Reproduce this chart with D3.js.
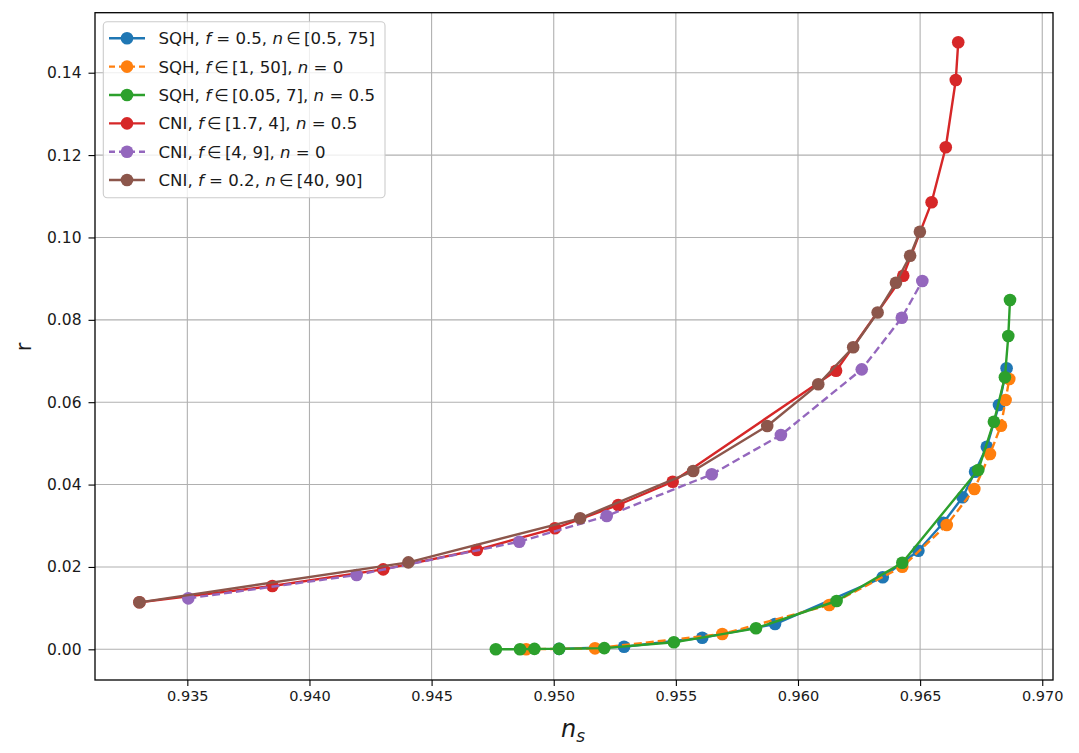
<!DOCTYPE html>
<html><head><meta charset="utf-8">
<script src="https://cdn.jsdelivr.net/npm/d3@7"></script>
<style>
html,body{margin:0;padding:0;background:#fff;}
svg{display:block;font-family:"DejaVu Sans",sans-serif;}
</style></head>
<body><svg id="chart" width="1079" height="753"></svg>
<script>
// ---- data ----
const blueNs  = [0.95022,0.95288,0.95608,0.95906,0.96347,0.96493,0.96595,0.96674,0.96725,0.96773,0.96823,0.96854];
const blueR   = [0.0001,0.00063,0.00282,0.00614,0.01748,0.02394,0.03074,0.03691,0.04312,0.04919,0.05932,0.06823];
const orangeNs= [0.94887,0.95169,0.95690,0.96128,0.96427,0.96609,0.96722,0.96786,0.96831,0.96850,0.96865];
const orangeR = [0.0000,0.00024,0.00371,0.01076,0.02006,0.03018,0.03892,0.04742,0.05429,0.06053,0.06563];
const greenNs = [0.94763,0.94862,0.94921,0.95022,0.95207,0.95492,0.95828,0.96158,0.96427,0.96738,0.96802,0.96847,0.96861,0.96868];
const greenR  = [0.0000,0.0000,0.0001,0.0001,0.0003,0.0017,0.0051,0.01173,0.02103,0.04353,0.05526,0.06604,0.07607,0.08481];
const redNs   = [0.93304,0.93848,0.94302,0.94685,0.95005,0.95264,0.95487,0.96156,0.96431,0.96547,0.96605,0.96646,0.96656];
const redR    = [0.01141,0.01537,0.01942,0.02411,0.02938,0.03504,0.04069,0.06764,0.09071,0.10853,0.12189,0.13823,0.14738];
const purpleNs= [0.93504,0.94193,0.94859,0.95217,0.95647,0.95930,0.96261,0.96425,0.96509];
const purpleR = [0.01238,0.01804,0.02613,0.03237,0.04249,0.05203,0.06798,0.08051,0.08942];
const brownNs = [0.93304,0.94405,0.95108,0.95571,0.95874,0.96083,0.96226,0.96326,0.96401,0.96459,0.96499];
const brownR  = [0.01141,0.02112,0.03181,0.04329,0.05422,0.06434,0.07333,0.08178,0.08901,0.09557,0.10139];

const seriesLabels = [
  "SQH, *f* = 0.5, *n*\u2009∈\u2009[0.5, 75]",
  "SQH, *f*\u2009∈\u2009[1, 50], *n* = 0",
  "SQH, *f*\u2009∈\u2009[0.05, 7], *n* = 0.5",
  "CNI, *f*\u2009∈\u2009[1.7, 4], *n* = 0.5",
  "CNI, *f*\u2009∈\u2009[4, 9], *n* = 0",
  "CNI, *f* = 0.2, *n*\u2009∈\u2009[40, 90]"
];
const xTicks = [0.935,0.940,0.945,0.950,0.955,0.960,0.965,0.970];
const yTicks = [0.00,0.02,0.04,0.06,0.08,0.10,0.12,0.14];

const series = [
  {ns:blueNs, r:blueR, color:"#1f77b4", dash:null},
  {ns:orangeNs, r:orangeR, color:"#ff7f0e", dash:"8,4"},
  {ns:greenNs, r:greenR, color:"#2ca02c", dash:null},
  {ns:redNs, r:redR, color:"#d62728", dash:null},
  {ns:purpleNs, r:purpleR, color:"#9467bd", dash:"8,4"},
  {ns:brownNs, r:brownR, color:"#8c564b", dash:null}
];

// ---- layout ----
const L=95, T=12.7, R=1053, B=680;
const svg = d3.select("#chart");
const x = d3.scaleLinear().domain([0.93122,0.97044]).range([L,R]);
const y = d3.scaleLinear().domain([-0.00745,0.15457]).range([B,T]);

// grid
const grid = svg.append("g");
grid.selectAll("line.gx").data(xTicks).join("line")
  .attr("x1",d=>x(d)).attr("x2",d=>x(d)).attr("y1",T).attr("y2",B)
  .attr("stroke","#b0b0b0").attr("stroke-width",1.1);
grid.selectAll("line.gy").data(yTicks).join("line")
  .attr("y1",d=>y(d)).attr("y2",d=>y(d)).attr("x1",L).attr("x2",R)
  .attr("stroke","#b0b0b0").attr("stroke-width",1.1);

// series
const plot = svg.append("g");
series.forEach(s=>{
  const pts = s.ns.map((v,i)=>[v,s.r[i]]);
  const g = plot.append("g");
  g.append("path").datum(pts)
    .attr("d", d3.line().x(d=>x(d[0])).y(d=>y(d[1])))
    .attr("fill","none").attr("stroke",s.color).attr("stroke-width",2.4)
    .attr("stroke-dasharray",s.dash).attr("stroke-linejoin","round");
  g.selectAll("circle").data(pts).join("circle")
    .attr("cx",d=>x(d[0])).attr("cy",d=>y(d[1])).attr("r",6.3)
    .attr("fill",s.color);
});

// axes
const xAxis = d3.axisBottom(x).tickValues(xTicks).tickFormat(d3.format(".3f")).tickSize(6).tickPadding(5);
const yAxis = d3.axisLeft(y).tickValues(yTicks).tickFormat(d3.format(".2f")).tickSize(6.5).tickPadding(7);
const gx = svg.append("g").attr("transform",`translate(0,${B})`).call(xAxis);
const gy = svg.append("g").attr("transform",`translate(${L},0)`).call(yAxis);
[gx,gy].forEach(g=>{
  g.select(".domain").remove();
  g.selectAll(".tick line").attr("stroke","#000").attr("stroke-width",1.1);
  g.selectAll(".tick text").attr("fill","#1a1a1a").attr("font-family","DejaVu Sans");
});
gx.selectAll(".tick text").attr("font-size",14.5);
gy.selectAll(".tick text").attr("font-size",15.5);

// frame
svg.append("rect").attr("x",L).attr("y",T).attr("width",R-L).attr("height",B-T)
  .attr("fill","none").attr("stroke","#000").attr("stroke-width",1.3);

// axis labels
svg.append("text").attr("transform","translate(31,347) rotate(-90)")
  .attr("text-anchor","middle").attr("font-size",21).attr("fill","#1a1a1a").text("r");
const xl = svg.append("text").attr("x",573).attr("y",737).attr("text-anchor","middle")
  .attr("font-size",24).attr("fill","#1a1a1a");
xl.append("tspan").attr("font-style","italic").text("n");
xl.append("tspan").attr("font-style","italic").attr("font-size",17).attr("dy",5).text("s");

// legend
const lg = svg.append("g");
lg.append("rect").attr("x",103.3).attr("y",21.7).attr("width",281.7).attr("height",176)
  .attr("rx",4).attr("fill","#fff").attr("fill-opacity",0.8).attr("stroke","#cccccc").attr("stroke-width",1.1);
series.forEach((s,i)=>{
  const yy = 38.3 + i*28.35;
  lg.append("line").attr("x1",109).attr("x2",145).attr("y1",yy).attr("y2",yy)
    .attr("stroke",s.color).attr("stroke-width",2.4).attr("stroke-dasharray",s.dash ? "6,4" : null);
  lg.append("circle").attr("cx",127).attr("cy",yy).attr("r",6.3).attr("fill",s.color);
  const t = lg.append("text").attr("x",158.5).attr("y",yy+6).attr("font-size",16.6).attr("fill","#1a1a1a");
  seriesLabels[i].split(/(\*[a-z]\*)/).filter(p=>p.length).forEach(p=>{
    if (/^\*[a-z]\*$/.test(p)) t.append("tspan").attr("font-style","italic").text(p[1]);
    else t.append("tspan").text(p);
  });
});
</script></body></html>
